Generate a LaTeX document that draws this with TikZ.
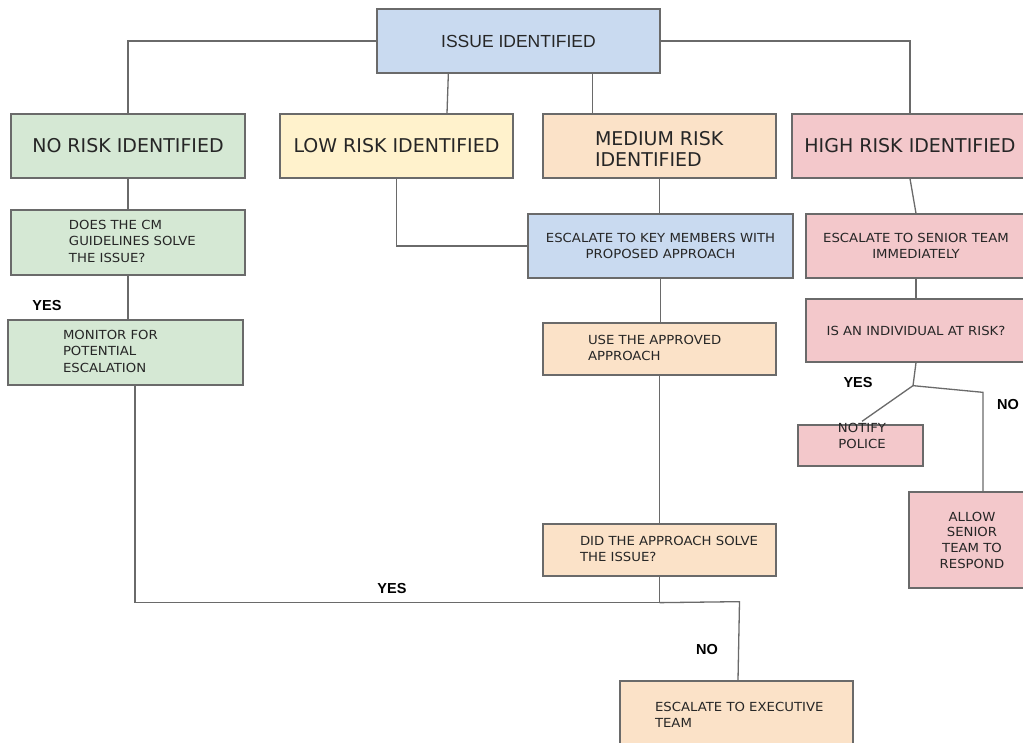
\documentclass[tikz,border=0pt]{standalone}
\usepackage{fontspec}
\setmainfont{DejaVu Sans}
\newfontfamily\arialf{Liberation Sans}
\newfontfamily\smallf[FakeStretch=1.06]{DejaVu Sans}
\usetikzlibrary{calc}
\definecolor{lineC}{HTML}{6A6A6A}
\definecolor{txtC}{HTML}{262626}
\definecolor{blueC}{HTML}{C9DAF0}
\definecolor{greenC}{HTML}{D5E8D4}
\definecolor{yellowC}{HTML}{FFF2CC}
\definecolor{orangeC}{HTML}{FBE2C8}
\definecolor{pinkC}{HTML}{F3C8CB}
\newcommand\lbox[3]{\makebox[#1][l]{\hspace*{#2}\begin{tabular}{@{}l@{}}#3\end{tabular}}}
\begin{document}
\begin{tikzpicture}[x=1pt,y=-1pt,
  box/.style={draw=lineC, line width=1.3pt, inner sep=0pt, text=txtC},
  head/.style={font=\fontsize{19}{21}\selectfont},
  small/.style={font=\smallf\fontsize{12.5}{16.5}\selectfont},
  conn/.style={draw=lineC, line width=1.3pt},
  yn/.style={font=\arialf\bfseries\fontsize{14.5}{16}\selectfont, text=black, inner sep=0pt}]
\useasboundingbox (0,0) rectangle (1023,742);
\clip (0,0) rectangle (1023,742);
\fill[white] (0,0) rectangle (1023,742);

\node[box, fill=blueC, minimum width=283pt, minimum height=64pt, font=\arialf\fontsize{17.5}{20}\selectfont] (issue) at (518.5,41) {ISSUE IDENTIFIED};
\node[box, fill=greenC, head, minimum width=234pt, minimum height=64pt] (norisk) at (128,146) {NO RISK IDENTIFIED};
\node[box, fill=yellowC, head, minimum width=233pt, minimum height=64pt] (lowrisk) at (396.5,146) {LOW RISK IDENTIFIED};
\node[box, fill=orangeC, head, minimum width=233pt, minimum height=64pt] (medrisk) at (659.5,146) {\raisebox{-6pt}[\height][\depth]{\lbox{233pt}{52pt}{MEDIUM RISK\\IDENTIFIED}}};
\node[box, fill=pinkC, head, minimum width=236pt, minimum height=64pt] (highrisk) at (910,146) {HIGH RISK IDENTIFIED};

\node[box, fill=greenC, small, minimum width=234pt, minimum height=65pt] (does) at (128,242.5) {\lbox{234pt}{58pt}{DOES THE CM\\GUIDELINES SOLVE\\THE ISSUE?}};
\node[box, fill=greenC, small, minimum width=235pt, minimum height=65pt] (monitor) at (125.5,352.5) {\lbox{235pt}{55pt}{MONITOR FOR\\POTENTIAL\\ESCALATION}};
\node[box, fill=blueC, small, minimum width=265pt, minimum height=64pt, align=center] (esckey) at (660.5,246) {ESCALATE TO KEY MEMBERS WITH\\PROPOSED APPROACH};
\node[box, fill=pinkC, small, minimum width=220pt, minimum height=64pt, align=center] (escsenior) at (916,246) {ESCALATE TO SENIOR TEAM\\IMMEDIATELY};
\node[box, fill=pinkC, small, minimum width=220pt, minimum height=63pt] (isan) at (916,330.5) {IS AN INDIVIDUAL AT RISK?};
\node[box, fill=orangeC, small, minimum width=233pt, minimum height=52pt] (use) at (659.5,349) {\lbox{233pt}{45pt}{USE THE APPROVED\\APPROACH}};
\node[box, fill=orangeC, small, minimum width=233pt, minimum height=52pt] (did) at (659.5,550) {\lbox{233pt}{37pt}{DID THE APPROACH SOLVE\\THE ISSUE?}};
\node[box, fill=pinkC, minimum width=125pt, minimum height=41pt] (notify) at (860.5,445.5) {};
\node[box, fill=pinkC, small, minimum width=126pt, minimum height=96pt, align=center, font=\smallf\fontsize{12.5}{15.7}\selectfont] (allow) at (972,540) {ALLOW\\SENIOR\\TEAM TO\\RESPOND};
\node[box, fill=orangeC, small, minimum width=233pt, minimum height=70pt] (escexec) at (736.5,716) {\lbox{233pt}{35pt}{ESCALATE TO EXECUTIVE\\TEAM}};

\draw[conn] (issue.west) -| (norisk.north);
\draw[conn] ($(issue.south west)+(72,0)$) -- ($(lowrisk.north)+(50.5,0)$);
\coordinate (mtop) at ($(medrisk.north west)+(50,0)$);
\draw[conn] (mtop |- issue.south) -- (mtop);
\draw[conn] (issue.east) -| (highrisk.north);
\draw[conn] (norisk.south) -- (does.north);
\draw[conn] (lowrisk.south) |- (esckey.west);
\draw[conn] (medrisk.south) -- (medrisk.south |- esckey.north);
\draw[conn] (highrisk.south) -- (escsenior.north);
\draw[conn] (escsenior.south) -- (isan.north);
\draw[conn] (does.south) -- (does.south |- monitor.north);
\draw[conn] (esckey.south) -- (esckey.south |- use.north);
\draw[conn] (use.south) -- (did.north);
\coordinate (jyes) at ($(did.south)+(0,26)$);
\draw[conn] ($(monitor.south)+(9.5,0)$) |- (jyes) -- (did.south);
\coordinate (jno) at ($(jyes)+(80,-1)$);
\draw[conn] (jyes) -- (jno) -- ($(escexec.north)+(1.5,0)$);
\coordinate (jrisk) at ($(isan.south)+(-3,23)$);
\draw[conn] (isan.south) -- (jrisk) -- ($(notify.north)+(1.5,-3)$);
\coordinate (jno2) at ($(allow.north)+(11,-99)$);
\draw[conn] (jrisk) -- (jno2) -- ($(allow.north)+(11,0)$);

\node[small, align=center, inner sep=0pt, text=txtC] (notifytxt) at (862,436) {NOTIFY\\POLICE};

\node[yn] (yes1) at (47,306) {YES};
\node[yn] (yes2) at (392,588) {YES};
\node[yn] (no1) at (707,649) {NO};
\node[yn] (yes3) at (858,383) {YES};
\node[yn] (no2) at (1008,405) {NO};
\end{tikzpicture}
\end{document}
